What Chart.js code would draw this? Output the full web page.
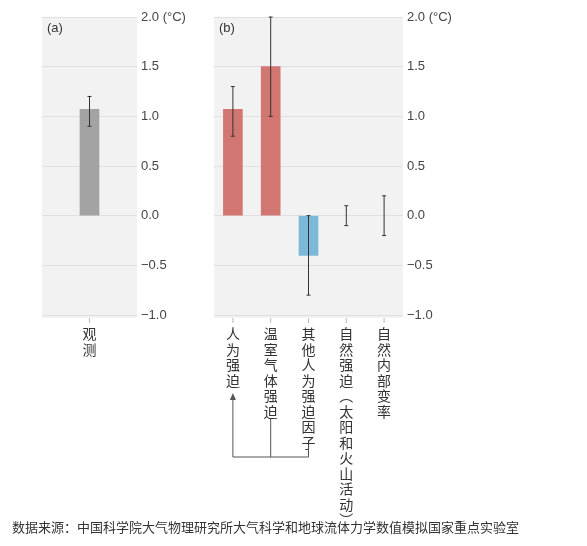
<!DOCTYPE html>
<html><head><meta charset="utf-8">
<script src="https://cdn.jsdelivr.net/npm/chart.js@4"></script>
<style>
body{margin:0;background:#fff;width:587px;height:546px;position:relative;overflow:hidden;font-family:"Noto Sans CJK SC",sans-serif}
.box{position:absolute;top:0;height:546px}
#src{position:absolute;left:12px;top:517px;font-size:13px;color:#333;white-space:nowrap}
</style></head><body>
<div class="box" style="left:0;width:190px"><canvas id="ca"></canvas></div>
<div class="box" style="left:172px;width:290px"><canvas id="cb"></canvas></div>
<div id="src">数据来源：中国科学院大气物理研究所大气科学和地球流体力学数值模拟国家重点实验室</div>
<script>
// --- Data ---
const labelsA = ["观测"];
const valuesA = [1.07];
const lowA = [0.9];
const highA = [1.2];

const labelsB = ["人为强迫", "温室气体强迫", "其他人为强迫因子", "自然强迫︵太阳和火山活动︶", "自然内部变率"];
const valuesB = [1.07, 1.5, -0.4, null, null];
const lowB = [0.8, 1.0, -0.8, -0.1, -0.2];
const highB = [1.3, 2.0, 0.0, 0.1, 0.2];
const colorsB = ["#d27671", "#d27671", "#7cb8d8", "#d27671", "#d27671"];

const yTicks = [-1.0, -0.5, 0.0, 0.5, 1.0, 1.5, 2.0];

// --- Plugins ---
const panelBg = {
    id: "panelBg",
    beforeDraw(chart) {
        const a = chart.chartArea, c = chart.ctx;
        c.save();
        c.fillStyle = "#f2f2f2";
        c.fillRect(a.left, a.top, a.right - a.left, a.bottom - a.top + 3);
        c.restore();
    },
};

const extras = {
    id: "extras",
    afterDatasetsDraw(chart, args, opts) {
        const c = chart.ctx, x = chart.scales.x, y = chart.scales.y, a = chart.chartArea;
        c.save();
        // panel tag
        c.fillStyle = "#333";
        c.font = "13px 'Liberation Sans'";
        c.textBaseline = "middle";
        c.fillText(opts.tag, a.left + 5, a.top + 11);
        // error bars
        c.strokeStyle = "#333";
        c.lineWidth = 1;
        opts.low.forEach((lo, i) => {
            const px = x.getPixelForValue(i);
            const y1 = y.getPixelForValue(lo), y2 = y.getPixelForValue(opts.high[i]);
            c.beginPath();
            c.moveTo(px, y1); c.lineTo(px, y2);
            c.moveTo(px - 2, y1); c.lineTo(px + 2, y1);
            c.moveTo(px - 2, y2); c.lineTo(px + 2, y2);
            c.stroke();
        });
        // category ticks + vertical labels
        c.font = "14px 'Noto Sans CJK SC'";
        c.textAlign = "center";
        c.textBaseline = "top";
        c.strokeStyle = "#bbb";
        opts.labels.forEach((lab, i) => {
            const px = x.getPixelForValue(i);
            c.beginPath();
            c.moveTo(px, a.bottom + 3); c.lineTo(px, a.bottom + 8);
            c.stroke();
            [...lab].forEach((ch, k) => c.fillText(ch, px, a.bottom + 12 + k * 15.5));
        });
        // bracket arrow
        if (opts.bracket) {
            const xs = [0, 1, 2].map(i => x.getPixelForValue(i));
            const base = 457;
            c.strokeStyle = "#555";
            c.beginPath();
            c.moveTo(xs[0], 397); c.lineTo(xs[0], base); c.lineTo(xs[2], base);
            c.moveTo(xs[1], 419); c.lineTo(xs[1], base);
            c.moveTo(xs[2], 445); c.lineTo(xs[2], base);
            c.stroke();
            c.fillStyle = "#555";
            c.beginPath();
            c.moveTo(xs[0], 393); c.lineTo(xs[0] - 3, 400); c.lineTo(xs[0] + 3, 400);
            c.closePath(); c.fill();
        }
        c.restore();
    },
};

function makeChart(id, tag, labels, values, colors, low, high, padLeft, axisW, bracket) {
    return new Chart(document.getElementById(id), {
        type: "bar",
        data: {
            labels: labels,
            datasets: [{ data: values, backgroundColor: colors, barThickness: 19 }],
        },
        options: {
            responsive: true,
            maintainAspectRatio: false,
            animation: false,
            layout: { padding: { left: padLeft, top: 17, bottom: 231, right: 0 } },
            scales: {
                x: { display: false },
                y: {
                    position: "right",
                    min: -1, max: 2,
                    afterFit: s => { s.width = axisW; },
                    afterBuildTicks: s => { s.ticks = yTicks.map(v => ({ value: v })); },
                    ticks: {
                        color: "#444",
                        font: { family: "Liberation Sans", size: 13 },
                        padding: 4,
                        callback: v => (v === 2 ? "2.0 (°C)" : v.toFixed(1).replace("-", "−")),
                    },
                    grid: { color: "#e0e0e0", drawTicks: false },
                    border: { display: false },
                },
            },
            plugins: {
                legend: { display: false },
                tooltip: { enabled: false },
                extras: { tag: tag, labels: labels, low: low, high: high, bracket: bracket },
            },
        },
        plugins: [panelBg, extras],
    });
}

makeChart("ca", "(a)", labelsA, valuesA, ["#a3a3a3"], lowA, highA, 42, 53, false);
makeChart("cb", "(b)", labelsB, valuesB, colorsB, lowB, highB, 42, 59, true);
</script>
</body></html>
